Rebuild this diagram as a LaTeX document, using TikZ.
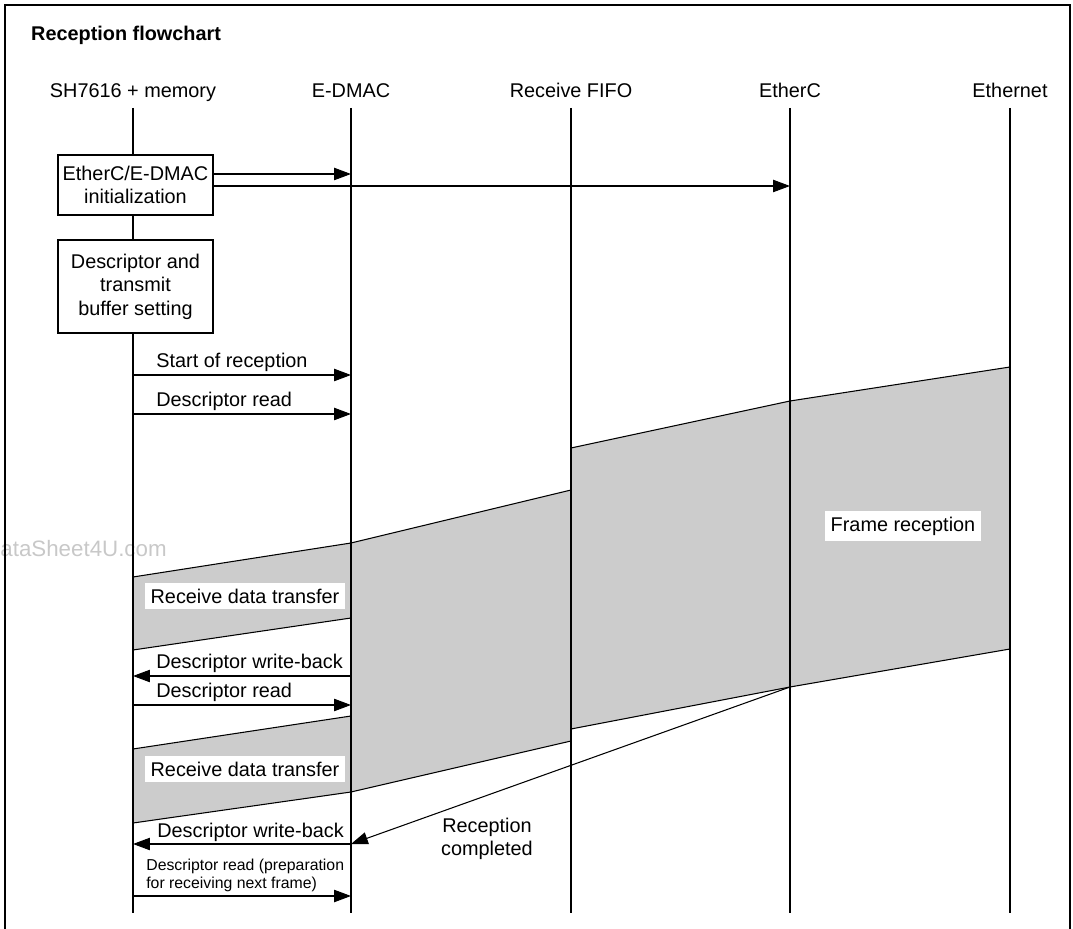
\documentclass[tikz,border=0pt]{standalone}
\usepackage{fontspec}
\setmainfont{Liberation Sans}
\usetikzlibrary{arrows.meta,positioning,calc}
\definecolor{bandgray}{RGB}{204,204,204}
\definecolor{markgray}{RGB}{200,200,200}

\begin{document}
\begin{tikzpicture}[
    x=0.02cm, y=-0.02cm,
    every node/.style={font=\fontsize{11.3}{13.4}\selectfont},
    head/.style={anchor=base},
    lifeline/.style={line width=0.6pt},
    procbox/.style={
        rectangle, draw, line width=0.6pt, fill=white, align=center,
        minimum width=3.1cm, inner sep=2pt
    },
    band/.style={fill=bandgray, draw=black, line width=0.6pt},
    msg/.style={-{Triangle[length=9.6pt,width=7pt]}, line width=0.6pt},
    lbl/.style={anchor=base west, inner sep=0pt},
    tag/.style={fill=white, inner sep=3pt}
]
\useasboundingbox (0,0) rectangle (1073,929);
\node[anchor=base east, inner sep=0pt, text=markgray, font=\fontsize{12.7}{15}\selectfont] (wmark) at (167,557) {DataSheet4U.com};
\draw[line width=1.2pt] (5,5) rectangle (1070,945);
\node[anchor=base west, font=\fontsize{11.3}{13.4}\selectfont\bfseries] (title) at (25,41) {Reception flowchart};

\node[head] (sh) at (133,98) {SH7616 + memory};
\node[head] (dmac) at (351,98) {E-DMAC};
\node[head] (fifo) at (571,98) {Receive FIFO};
\node[head] (etherc) at (790,98) {EtherC};
\node[head] (eth) at (1010,98) {Ethernet};

\filldraw[band] (etherc |- 0,401) -- (eth |- 0,367) -- (eth |- 0,649) -- (etherc |- 0,687) -- cycle;
\filldraw[band] (fifo |- 0,448) -- (etherc |- 0,401) -- (etherc |- 0,687) -- (fifo |- 0,729) -- cycle;
\filldraw[band] (dmac |- 0,543) -- (fifo |- 0,490) -- (fifo |- 0,741) -- (dmac |- 0,792) -- cycle;
\filldraw[band] (sh |- 0,577) -- (dmac |- 0,543) -- (dmac |- 0,618) -- (sh |- 0,650) -- cycle;
\filldraw[band] (sh |- 0,749) -- (dmac |- 0,716) -- (dmac |- 0,792) -- (sh |- 0,823) -- cycle;

\foreach \n in {sh,dmac,fifo,etherc,eth}
    \draw[lifeline] (\n |- 0,108) -- (\n |- 0,913);

\node[procbox, minimum height=1.2cm] (init) at (135.5,185) {EtherC/E-DMAC\\initialization};
\node[procbox, minimum height=1.86cm] (setup) at (135.5,286.5) {Descriptor and\\transmit\\buffer setting};

\draw[msg] (init.east |- 0,174) -- (dmac |- 0,174);
\draw[msg] (init.east |- 0,186) -- (etherc |- 0,186);
\draw[msg] (sh |- 0,375) -- (dmac |- 0,375);
\draw[msg] (sh |- 0,414) -- (dmac |- 0,414);
\draw[msg] (dmac |- 0,676) -- (sh |- 0,676);
\draw[msg] (sh |- 0,705) -- (dmac |- 0,705);
\draw[msg] (dmac |- 0,844) -- (sh |- 0,844);
\draw[msg] (sh |- 0,896) -- (dmac |- 0,896);
\draw[msg] (etherc |- 0,687) -- (dmac |- 0,844);

\node[lbl] (startlbl) at (156,368) {Start of reception};
\node[lbl] (readlbl) at (156,407) {Descriptor read};
\node[lbl] (backlbl) at (156,668) {Descriptor write-back};
\node[lbl] (rereadlbl) at (156,697) {Descriptor read};
\node[lbl] (lastbacklbl) at (157,837) {Descriptor write-back};
\node[anchor=west, inner sep=0pt, align=left, font=\fontsize{9}{10.3}\selectfont] (nextlbl) at (146,875) {Descriptor read (preparation\\for receiving next frame)};
\node[align=center] (donelbl) at (487,839) {Reception\\completed};

\node[tag] (rxone) at (245,596) {Receive data transfer};
\node[tag] (rxtwo) at (245,769) {Receive data transfer};
\node[tag] (framelbl) at (903,526) {Frame reception};
\end{tikzpicture}
\end{document}
